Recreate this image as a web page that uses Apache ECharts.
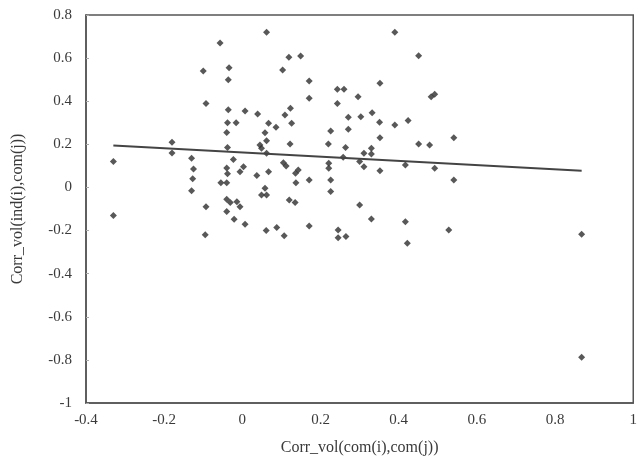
<!DOCTYPE html>
<html>
<head>
<meta charset="utf-8">
<script src="https://cdn.jsdelivr.net/npm/echarts@6/dist/echarts.min.js"></script>
<style>html,body{margin:0;padding:0;background:#fff}#c{width:640px;height:466px}</style>
</head>
<body>
<div id="c"></div>
<script>
var xVals = [-0.33,-0.33,-0.18,-0.18,-0.13,-0.125,-0.127,-0.13,-0.10,-0.093,-0.093,-0.095,-0.057,-0.034,-0.036,-0.036,-0.038,-0.016,-0.04,-0.038,
 -0.023,-0.04,-0.038,-0.04,-0.055,-0.04,-0.031,-0.04,-0.014,-0.006,-0.021,0.007,-0.006,0.003,0.007,0.039,0.037,0.062,0.067,0.058,
 0.062,0.045,0.049,0.062,0.067,0.058,0.049,0.062,0.086,0.061,0.088,0.107,0.103,0.119,0.149,0.109,0.123,0.126,0.122,0.105,
 0.112,0.136,0.143,0.137,0.12,0.135,0.171,0.171,0.171,0.171,0.22,0.226,0.221,0.221,0.226,0.226,0.243,0.26,0.243,0.271,
 0.271,0.264,0.258,0.245,0.245,0.265,0.296,0.352,0.39,0.451,0.303,0.332,0.351,0.39,0.424,0.483,0.492,0.352,0.33,0.311,
 0.33,0.3,0.311,0.352,0.417,0.451,0.479,0.541,0.492,0.541,0.3,0.33,0.417,0.422,0.528,0.868,0.868];
var yVals = [0.12,-0.13,0.21,0.16,0.135,0.085,0.04,-0.015,0.54,0.39,-0.09,-0.22,0.67,0.555,0.50,0.36,0.30,0.30,0.255,0.185,
 0.13,0.09,0.063,0.022,0.022,-0.055,-0.07,-0.112,-0.066,-0.089,-0.148,-0.171,0.073,0.096,0.355,0.341,0.055,0.72,0.298,0.254,
 0.217,0.197,0.182,0.159,0.073,-0.004,-0.035,-0.035,0.279,-0.2,-0.186,-0.224,0.545,0.604,0.61,0.336,0.367,0.298,0.202,0.115,
 0.1,0.066,0.081,0.022,-0.058,-0.07,0.494,0.414,0.035,-0.179,0.202,0.262,0.112,0.089,0.035,-0.019,0.455,0.455,0.39,0.326,
 0.27,0.185,0.14,-0.197,-0.233,-0.228,0.421,0.483,0.72,0.611,0.328,0.347,0.302,0.29,0.31,0.421,0.432,0.231,0.182,0.159,
 0.155,0.12,0.096,0.077,0.104,0.202,0.197,0.231,0.089,0.035,-0.081,-0.146,-0.159,-0.259,-0.197,-0.217,-0.788];
var trendX = [-0.33, 0.868];
var trendY = [0.195, 0.077];
var xTickLabels = ['-0.4','-0.2','0','0.2','0.4','0.6','0.8','1'];
var yTickLabels = ['-1','-0.8','-0.6','-0.4','-0.2','0','0.2','0.4','0.6','0.8'];
var xName = 'Corr_vol(com(i),com(j))';
var yName = 'Corr_vol(ind(i),com(j))';

var pts = xVals.map(function(x,i){return [x,yVals[i]];});
var trend = trendX.map(function(x,i){return [x,trendY[i]];});
function fmt(v){ return String(Math.round(v*10)/10); }
var font = 'Liberation Serif';
var chart = echarts.init(document.getElementById('c'), null, {renderer:'canvas'});
chart.setOption({
  animation:false,
  backgroundColor:'#fff',
  grid:{left:86,right:4,top:15,bottom:63,show:true,borderColor:'#555',borderWidth:1.5},
  xAxis:{type:'value',min:-0.4,max:1,interval:0.2,
    name:xName,nameLocation:'middle',nameGap:37,
    nameTextStyle:{fontFamily:font,fontSize:16,color:'#3a3a3a'},
    axisLine:{show:true,onZero:false,lineStyle:{color:'#555',width:1.5}},
    axisTick:{show:false},splitLine:{show:false},
    axisLabel:{fontFamily:font,fontSize:15,color:'#3a3a3a',margin:10,
      formatter:function(v){var i=Math.round((v+0.4)/0.2);return xTickLabels[i]!==undefined?xTickLabels[i]:fmt(v);}}},
  yAxis:{type:'value',min:-1,max:0.8,interval:0.2,
    name:yName,nameLocation:'middle',nameGap:60,nameRotate:90,
    nameTextStyle:{fontFamily:font,fontSize:16,color:'#3a3a3a'},
    axisLine:{show:true,onZero:false,lineStyle:{color:'#555',width:1.5}},
    axisTick:{show:true,inside:true,length:3,lineStyle:{color:'#aaa'}},splitLine:{show:false},
    axisLabel:{fontFamily:font,fontSize:15,color:'#3a3a3a',margin:14,
      formatter:function(v){var i=Math.round((v+1)/0.2);return yTickLabels[i]!==undefined?yTickLabels[i]:fmt(v);}}},
  series:[
    {type:'scatter',data:pts,symbol:'diamond',symbolSize:7,itemStyle:{color:'#2e2e2e'}},
    {type:'line',data:trend,symbol:'none',lineStyle:{color:'#444',width:2},z:3}
  ]
});
</script>
</body>
</html>
